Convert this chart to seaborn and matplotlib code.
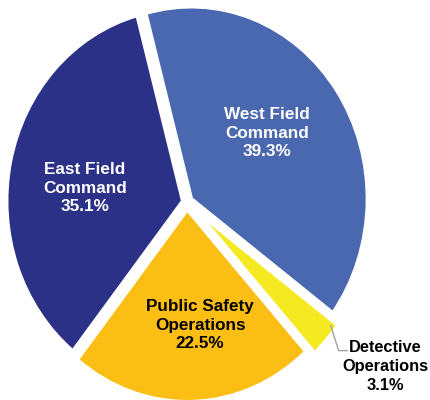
import numpy as np
import seaborn as sns
import matplotlib
matplotlib.use("Agg")
import matplotlib.pyplot as plt

# data
divisions = ["West Field\nCommand", "Detective\nOperations", "Public Safety\nOperations", "East Field\nCommand"]
shares = [39.3, 3.1, 22.5, 35.1]
colors = ["#4a68b0", "#f5ea22", "#fbbe14", "#2b3187"]
text_colors = ["white", "black", "black", "white"]

# layout
explode = [0.03, 0.07, 0.04, 0.025]
label_r = [0.55, None, 0.605, 0.56]
label_shift = [4, 0, 4.8, 4.7]  # degrees

sns.set_theme(style="white")
plt.rcParams['font.family'] = ['Liberation Sans', 'DejaVu Sans']

W, H = 431, 400
fig = plt.figure(figsize=(W / 100, H / 100), dpi=100)
ax = fig.add_axes([0, 0, 1, 1])

wedges, _ = ax.pie(shares, colors=colors, explode=explode, startangle=105,
                   counterclock=False, radius=1, normalize=True,
                   wedgeprops=dict(linewidth=2.5, edgecolor='white'))

# slightly stretched vertically, like the original image
cx, cy, rx, ry = 187, 202, 176, 192
ax.set_aspect('auto')
ax.set_xlim(-cx / rx, (W - cx) / rx)
ax.set_ylim(-(H - cy) / ry, cy / ry)
ax.axis('off')

for i, w in enumerate(wedges):
    mid_deg = (w.theta1 + w.theta2) / 2
    txt = f"{divisions[i]}\n{shares[i]:.1f}%"
    if label_r[i] is not None:
        mid = np.deg2rad(mid_deg + label_shift[i])
        r = label_r[i] + explode[i]
        ax.text(r * np.cos(mid), r * np.sin(mid), txt, ha='center', va='center',
                color=text_colors[i], fontsize=12.3, fontweight='bold', linespacing=1.3)
    else:
        # outside label with a leader line
        mid = np.deg2rad(mid_deg + 3.8)
        r0 = 1.0 + explode[i] - 0.03
        x0, y0 = r0 * np.cos(mid), r0 * np.sin(mid)
        x1, y1 = x0 + 0.045, y0 - 0.13
        x2 = x1 + 0.051
        ax.plot([x0, x1, x2], [y0, y1, y1], color='#a0a0a0', lw=1)
        ax.text(x2 + 0.215, y1 - 0.083, txt, ha='center', va='center',
                color=text_colors[i], fontsize=11.8, fontweight='bold', linespacing=1.35)

fig.savefig("out.png", dpi=100, facecolor='white')
